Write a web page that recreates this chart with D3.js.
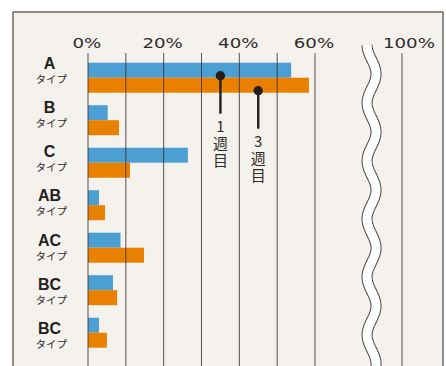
<!DOCTYPE html>
<html>
<head>
<meta charset="utf-8">
<script src="https://cdn.jsdelivr.net/npm/d3@7"></script>
<style>
  html, body { margin: 0; padding: 0; background: #ffffff; }
  svg { display: block; }
</style>
</head>
<body>
<div id="chart"></div>
<script>
// chart data
var categories = ["A", "B", "C", "AB", "AC", "BC", "BC"];
var subLabel = "タイプ";
var week1 = [53.7, 5.2, 26.4, 2.9, 8.6, 6.6, 2.9];
var week3 = [58.4, 8.2, 11.1, 4.5, 14.8, 7.7, 5.0];
var gridValues = [0, 10, 20, 30, 40, 50, 60, 100];
var tickValues = [0, 20, 40, 60, 100];
var markerLabels = ["1週目", "3週目"];
var markerValues = [35, 45];

var svgWidth = 446;
var svgHeight = 366;

var svg = d3.select("#chart")
  .append("svg")
  .attr("width", svgWidth)
  .attr("height", svgHeight);

// panel
svg.append("rect")
  .attr("x", 13)
  .attr("y", 12)
  .attr("width", 430)
  .attr("height", 370)
  .attr("fill", "#f5f2ed")
  .attr("stroke", "#6e6a66")
  .attr("stroke-width", 1.5);

// x scale with a break between 60% and 100%
var x = d3.scaleLinear()
  .domain([0, 60, 100])
  .range([88, 315, 402]);

// bars
var y = d3.scaleBand()
  .domain(d3.range(categories.length))
  .range([62.7, 347.7])
  .paddingInner(0.294)
  .paddingOuter(0);

var ySub = d3.scaleBand()
  .domain([0, 1])
  .range([0, y.bandwidth()]);

var colors = ["#4b9fd2", "#e98000"];
var series = [week1, week3];

series.forEach(function(vals, s) {
  svg.append("g").selectAll("rect")
    .data(vals)
    .enter()
    .append("rect")
    .attr("x", x(0))
    .attr("y", (d, i) => y(i) + ySub(s))
    .attr("width", d => x(d) - x(0))
    .attr("height", ySub.bandwidth())
    .attr("fill", colors[s]);
});

// grid lines over the bars
svg.append("g").selectAll("line")
  .data(gridValues)
  .enter()
  .append("line")
  .attr("x1", d => x(d))
  .attr("x2", d => x(d))
  .attr("y1", 53)
  .attr("y2", svgHeight)
  .attr("stroke", "#3a3431")
  .attr("stroke-opacity", 0.85)
  .attr("stroke-width", 1);

// tick labels
svg.append("g").selectAll("text")
  .data(tickValues)
  .enter()
  .append("text")
  .attr("x", d => x(d) + (d === 100 ? 7 : -1))
  .attr("y", 48)
  .attr("text-anchor", "middle")
  .attr("font-family", "DejaVu Sans, sans-serif")
  .attr("font-size", "14px")
  .attr("fill", "#2f2b29")
  .text(d => d + "%")
  .each(function() {
    var w = this.getComputedTextLength();
    d3.select(this)
      .attr("textLength", w * 1.3)
      .attr("lengthAdjust", "spacingAndGlyphs");
  });

// wavy break
var breakX = x(86);
var wave = [];
for (var yy = 45; yy <= 380; yy += 1) {
  wave.push([breakX - 4.5 * Math.cos(2 * Math.PI * (yy - 45) / 58), yy]);
}
var waveLine = d3.line();
svg.append("path")
  .attr("d", waveLine(wave))
  .attr("fill", "none")
  .attr("stroke", "#4a4542")
  .attr("stroke-width", 11);
svg.append("path")
  .attr("d", waveLine(wave))
  .attr("fill", "none")
  .attr("stroke", "#ffffff")
  .attr("stroke-width", 9);

// category labels
var yLabel = d3.scaleLinear()
  .domain([0, categories.length - 1])
  .range([68.5, 334]);

var labels = svg.append("g");
labels.selectAll("text.cat")
  .data(categories)
  .enter()
  .append("text")
  .attr("class", "cat")
  .attr("x", 49.5)
  .attr("y", (d, i) => yLabel(i))
  .attr("text-anchor", "middle")
  .attr("font-family", "Liberation Sans, Arial, sans-serif")
  .attr("font-weight", "bold")
  .attr("font-size", "16px")
  .attr("fill", "#231f1e")
  .text(d => d);

labels.selectAll("text.sub")
  .data(categories)
  .enter()
  .append("text")
  .attr("class", "sub")
  .attr("x", 51.3)
  .attr("y", (d, i) => yLabel(i) + 14)
  .attr("text-anchor", "middle")
  .attr("font-family", "Noto Sans CJK JP, sans-serif")
  .attr("font-size", "10.5px")
  .attr("fill", "#2f2b29")
  .text(subLabel);

// week markers (pin + vertical label)
markerLabels.forEach(function(lbl, s) {
  var mx = x(markerValues[s]);
  var my = y(0) + ySub(s) + ySub.bandwidth() - 2;
  var g = svg.append("g");
  g.append("line")
    .attr("x1", mx)
    .attr("x2", mx)
    .attr("y1", my)
    .attr("y2", my + 38)
    .attr("stroke", "#231f1e")
    .attr("stroke-width", 2.4);
  g.append("circle")
    .attr("cx", mx)
    .attr("cy", my)
    .attr("r", 4.7)
    .attr("fill", "#231f1e");
  g.append("text")
    .attr("x", mx)
    .attr("y", my + 43)
    .style("writing-mode", "vertical-rl")
    .style("text-orientation", "upright")
    .attr("letter-spacing", 2)
    .attr("font-family", "Noto Sans CJK JP, sans-serif")
    .attr("font-size", "15px")
    .attr("fill", "#2f2b29")
    .text(lbl);
});
</script>
</body>
</html>
